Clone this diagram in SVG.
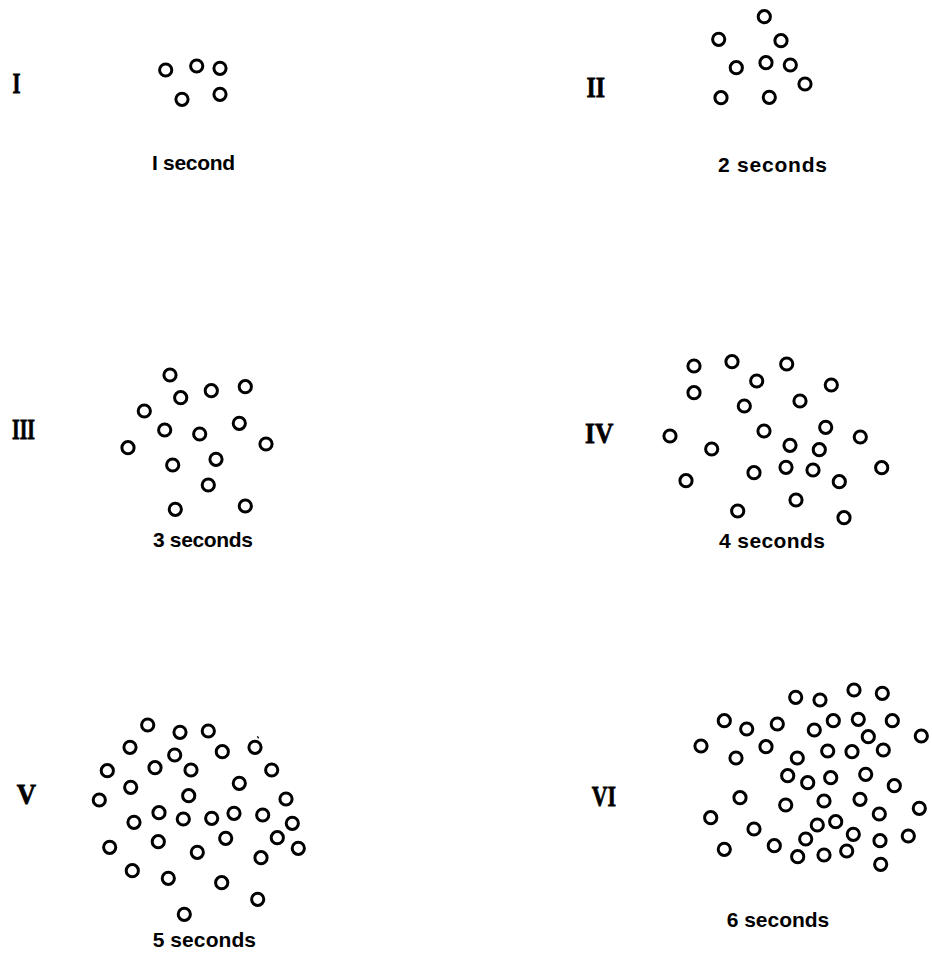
<svg xmlns="http://www.w3.org/2000/svg" xmlns:xlink="http://www.w3.org/1999/xlink" width="932" height="953" viewBox="0 0 932 953">
<style>
.d{fill:none;stroke:#000;stroke-width:3}
.num{font-family:"Liberation Serif",serif;font-weight:bold;font-size:30px;fill:#000;stroke:#000;stroke-width:0.8}
.lab{font-family:"Liberation Sans",Arial,sans-serif;font-weight:bold;font-size:21px;fill:#000}
</style>
<defs><circle id="c" r="6.1" class="d"/></defs>
<rect width="932" height="953" fill="#fff"/>
<g id="panel-1">
<text class="num" x="12.5" y="93" textLength="8" lengthAdjust="spacingAndGlyphs">I</text>
<use href="#c" x="165.7" y="70"/><use href="#c" x="196.7" y="66"/><use href="#c" x="220" y="68.3"/>
<use href="#c" x="182" y="99.3"/><use href="#c" x="220" y="94.3"/>
<text class="lab" x="152" y="170" textLength="83" lengthAdjust="spacing">I second</text>
</g>
<g id="panel-2">
<text class="num" x="586.5" y="97" textLength="18.5" lengthAdjust="spacingAndGlyphs">II</text>
<use href="#c" x="764.3" y="16.7"/><use href="#c" x="718.7" y="39.3"/><use href="#c" x="781" y="40.7"/>
<use href="#c" x="736.3" y="67.7"/><use href="#c" x="766" y="62.7"/><use href="#c" x="790.3" y="65"/>
<use href="#c" x="805" y="84"/><use href="#c" x="721" y="97.7"/><use href="#c" x="769.3" y="97.3"/>
<text class="lab" x="718" y="171.5" textLength="109" lengthAdjust="spacing">2 seconds</text>
</g>
<g id="panel-3">
<text class="num" x="12" y="439" textLength="23" lengthAdjust="spacingAndGlyphs">III</text>
<use href="#c" x="170" y="375"/><use href="#c" x="211.3" y="390.7"/><use href="#c" x="245.3" y="386.7"/>
<use href="#c" x="180.7" y="397.7"/><use href="#c" x="144.3" y="411"/><use href="#c" x="164.7" y="430"/>
<use href="#c" x="199.7" y="434"/><use href="#c" x="239.3" y="423.3"/><use href="#c" x="128" y="447.7"/>
<use href="#c" x="266" y="444"/><use href="#c" x="172.7" y="465"/><use href="#c" x="216" y="459.3"/>
<use href="#c" x="208.3" y="485"/><use href="#c" x="175.3" y="509.3"/><use href="#c" x="245.3" y="506"/>
<text class="lab" x="153" y="547" textLength="100" lengthAdjust="spacing">3 seconds</text>
</g>
<g id="panel-4">
<text class="num" x="585" y="442.7" textLength="28.3" lengthAdjust="spacingAndGlyphs">IV</text>
<use href="#c" x="694" y="366"/><use href="#c" x="732" y="361.7"/><use href="#c" x="786.7" y="364"/>
<use href="#c" x="756.7" y="381"/><use href="#c" x="831.3" y="385"/><use href="#c" x="694" y="392.7"/>
<use href="#c" x="744.3" y="406"/><use href="#c" x="800" y="401"/><use href="#c" x="670" y="436"/>
<use href="#c" x="764" y="431"/><use href="#c" x="825.7" y="427.3"/><use href="#c" x="860.3" y="437"/>
<use href="#c" x="711.7" y="449"/><use href="#c" x="790" y="445.3"/><use href="#c" x="819.3" y="449.7"/>
<use href="#c" x="786" y="467.3"/><use href="#c" x="813" y="470"/><use href="#c" x="754" y="472.7"/>
<use href="#c" x="881.7" y="467.7"/><use href="#c" x="839.3" y="481.7"/><use href="#c" x="686" y="480.7"/>
<use href="#c" x="796" y="500"/><use href="#c" x="737.7" y="511"/><use href="#c" x="844" y="517.7"/>
<text class="lab" x="719" y="548" textLength="106" lengthAdjust="spacing">4 seconds</text>
</g>
<g id="panel-5">
<text class="num" x="16.7" y="804.3" textLength="19.3" lengthAdjust="spacingAndGlyphs">V</text>
<use href="#c" x="147.7" y="725"/><use href="#c" x="180" y="732.3"/><use href="#c" x="208.3" y="731"/>
<use href="#c" x="130" y="747.3"/><use href="#c" x="174.7" y="755"/><use href="#c" x="222.3" y="751.7"/>
<use href="#c" x="255" y="747.3"/><use href="#c" x="107.3" y="770.7"/><use href="#c" x="155" y="767.7"/>
<use href="#c" x="191" y="770"/><use href="#c" x="271.7" y="770"/><use href="#c" x="130.7" y="787.3"/>
<use href="#c" x="239.3" y="783.3"/><use href="#c" x="99.3" y="800"/><use href="#c" x="188.7" y="795.7"/>
<use href="#c" x="286" y="799"/><use href="#c" x="159" y="812.7"/><use href="#c" x="183.3" y="819"/>
<use href="#c" x="211.7" y="818.3"/><use href="#c" x="234" y="813.3"/><use href="#c" x="262.7" y="815"/>
<use href="#c" x="134" y="822.3"/><use href="#c" x="292.3" y="823.3"/><use href="#c" x="158.3" y="841.7"/>
<use href="#c" x="225.7" y="838.3"/><use href="#c" x="277.3" y="837.7"/><use href="#c" x="109.7" y="847.3"/>
<use href="#c" x="197.3" y="852.3"/><use href="#c" x="298.3" y="848.3"/><use href="#c" x="261" y="857.7"/>
<use href="#c" x="132.3" y="870.7"/><use href="#c" x="168.3" y="878.3"/><use href="#c" x="221.7" y="882.7"/>
<use href="#c" x="257.7" y="899.3"/><use href="#c" x="184.3" y="914.3"/>
<path d="M257.4 736.2 L258.6 738.4" stroke="#000" stroke-width="1.3" fill="none"/>
<text class="lab" x="152.7" y="946.7" textLength="103.3" lengthAdjust="spacing">5 seconds</text>
</g>
<g id="panel-6">
<text class="num" x="591.7" y="806" textLength="24.3" lengthAdjust="spacingAndGlyphs">VI</text>
<use href="#c" x="795.7" y="697.3"/><use href="#c" x="820" y="700"/><use href="#c" x="854" y="690"/>
<use href="#c" x="882.3" y="693.3"/><use href="#c" x="724.3" y="720.7"/><use href="#c" x="746.7" y="729"/>
<use href="#c" x="777.3" y="724"/><use href="#c" x="814.3" y="730"/><use href="#c" x="833.3" y="720.7"/>
<use href="#c" x="858.3" y="719.3"/><use href="#c" x="892.3" y="720.7"/><use href="#c" x="868.3" y="736.7"/>
<use href="#c" x="921.3" y="736"/><use href="#c" x="701" y="746"/><use href="#c" x="736" y="758"/>
<use href="#c" x="766" y="746.7"/><use href="#c" x="797.3" y="758"/><use href="#c" x="827.7" y="751"/>
<use href="#c" x="852" y="751.7"/><use href="#c" x="883.3" y="750"/><use href="#c" x="787.7" y="775.7"/>
<use href="#c" x="807.7" y="782.7"/><use href="#c" x="830.7" y="777.7"/><use href="#c" x="865.7" y="774.3"/>
<use href="#c" x="894.3" y="785.7"/><use href="#c" x="740" y="797.7"/><use href="#c" x="785.7" y="805"/>
<use href="#c" x="824" y="801"/><use href="#c" x="860" y="799.3"/><use href="#c" x="919.3" y="808.3"/>
<use href="#c" x="879.3" y="814"/><use href="#c" x="710.7" y="817.7"/><use href="#c" x="754" y="829"/>
<use href="#c" x="817.3" y="825"/><use href="#c" x="835.7" y="821.7"/><use href="#c" x="805.7" y="839"/>
<use href="#c" x="853.3" y="834.3"/><use href="#c" x="880" y="840.7"/><use href="#c" x="908.3" y="836"/>
<use href="#c" x="724.3" y="849.3"/><use href="#c" x="774.3" y="845.7"/><use href="#c" x="797.7" y="856.7"/>
<use href="#c" x="824" y="855"/><use href="#c" x="846.7" y="851"/><use href="#c" x="880.7" y="864.3"/>
<text class="lab" x="726.7" y="926.5" textLength="102.6" lengthAdjust="spacing">6 seconds</text>
</g>
<g id="connectors"></g>
</svg>
